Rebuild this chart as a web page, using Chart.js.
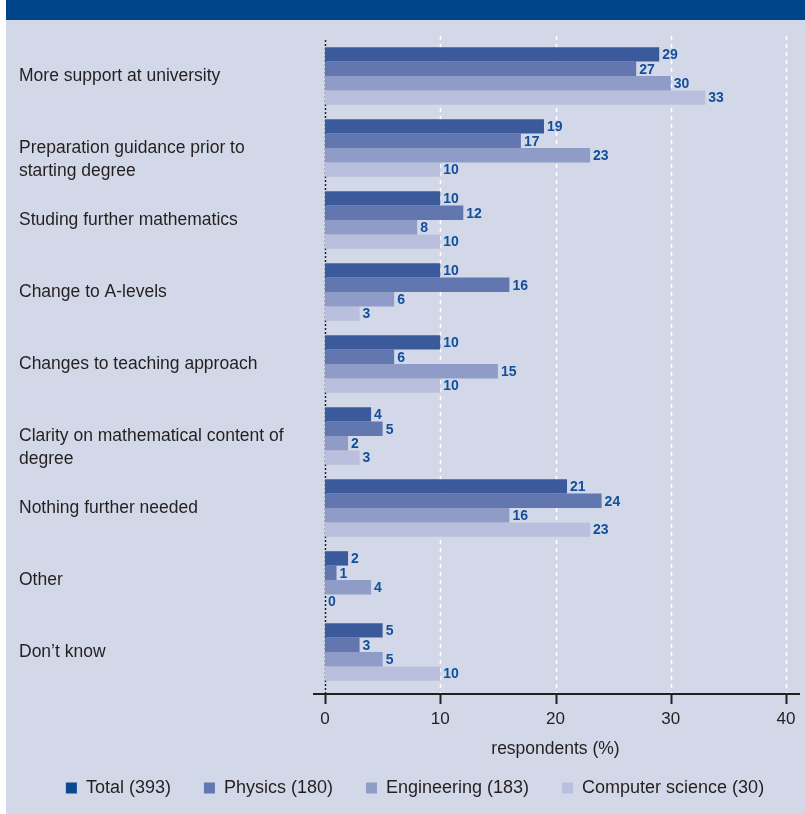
<!DOCTYPE html>
<html>
<head>
<meta charset="utf-8">
<script src="https://cdn.jsdelivr.net/npm/chart.js@4/dist/chart.umd.min.js"></script>
<style>
  html, body { margin: 0; padding: 0; background: #ffffff; overflow: hidden; }
  #wrap { position: relative; width: 805px; height: 814px; overflow: hidden; }
  #band { position: absolute; left: 6px; top: 0; width: 799px; height: 20px; background: #00448a; }
  #panel { position: absolute; left: 6px; top: 20px; width: 799px; height: 794px; background: #d3d8e8; }
  #c { position: absolute; left: 0; top: 0; }
</style>
</head>
<body>
<div id="wrap">
  <div id="band"></div>
  <div id="panel"></div>
  <canvas id="c" width="811" height="814"></canvas>
</div>
<script>
const categories = [
  'More support at university',
  ['', 'Preparation guidance prior to', 'starting degree'],
  'Studing further mathematics',
  'Change to A-levels',
  'Changes to teaching approach',
  ['', 'Clarity on mathematical content of', 'degree'],
  'Nothing further needed',
  'Other',
  'Don\u2019t know'
];
const seriesNames = ['Total (393)', 'Physics (180)', 'Engineering (183)', 'Computer science (30)'];
const totalValues = [29, 19, 10, 10, 10, 4, 21, 2, 5];
const physicsValues = [27, 17, 12, 16, 6, 5, 24, 1, 3];
const engineeringValues = [30, 23, 8, 6, 15, 2, 16, 4, 5];
const computerScienceValues = [33, 10, 10, 3, 10, 3, 23, 0, 10];
const xTicks = [0, 10, 20, 30, 40];

const barColors = ['#3a5a9c', '#6277b0', '#8f9cc7', '#b9bfdc'];
const legendColors = ['#0b4690', '#6277b0', '#8f9cc7', '#b9bfdc'];
const textColor = '#231f20';
const FONT = "'Liberation Sans', Arial, sans-serif";

const seriesValues = [totalValues, physicsValues, engineeringValues, computerScienceValues];

const decorPlugin = {
  id: 'decor',
  beforeDatasetsDraw(chart) {
    const ctx = chart.ctx;
    const xs = chart.scales.x;
    const area = chart.chartArea;
    const axisY = area.bottom + 6;
    ctx.save();
    xTicks.forEach(v => {
      const px = Math.round(xs.getPixelForValue(v)) + 0.5;
      ctx.beginPath();
      if (v === 0) {
        ctx.setLineDash([2, 2]);
        ctx.strokeStyle = '#231f20';
        ctx.lineWidth = 1.5;
        ctx.moveTo(px, area.top);
      } else {
        ctx.setLineDash([4, 4]);
        ctx.strokeStyle = '#ffffff';
        ctx.lineWidth = 1.5;
        ctx.moveTo(px, area.top - 4);
      }
      ctx.lineTo(px, axisY);
      ctx.stroke();
    });
    ctx.setLineDash([]);
    ctx.strokeStyle = textColor;
    ctx.lineWidth = 2;
    ctx.beginPath();
    ctx.moveTo(xs.getPixelForValue(0) - 12, axisY);
    ctx.lineTo(area.right + 14, axisY);
    ctx.stroke();
    xTicks.forEach(v => {
      const px = Math.round(xs.getPixelForValue(v)) + 0.5;
      ctx.beginPath();
      ctx.moveTo(px, axisY);
      ctx.lineTo(px, axisY + 10);
      ctx.stroke();
    });
    ctx.restore();
  },
  afterDatasetsDraw(chart) {
    const ctx = chart.ctx;
    ctx.save();
    ctx.font = "bold 14px " + FONT;
    ctx.fillStyle = '#124f9c';
    ctx.textBaseline = 'middle';
    ctx.textAlign = 'left';
    chart.data.datasets.forEach((ds, di) => {
      const meta = chart.getDatasetMeta(di);
      meta.data.forEach((bar, i) => {
        ctx.fillText(String(ds.data[i]), bar.x + 3, bar.y + 1);
      });
    });
    ctx.restore();
  }
};

new Chart(document.getElementById('c'), {
  type: 'bar',
  data: {
    labels: categories,
    datasets: seriesNames.map((name, i) => ({
      label: name,
      data: seriesValues[i],
      backgroundColor: barColors[i],
      borderWidth: 0,
      categoryPercentage: 0.8,
      barPercentage: 1.0
    }))
  },
  options: {
    indexAxis: 'y',
    responsive: false,
    animation: false,
    layout: { padding: { left: 19, right: 0, top: 40, bottom: 7 } },
    scales: {
      x: {
        min: 0,
        max: 40,
        afterBuildTicks(scale) { scale.ticks = xTicks.map(v => ({ value: v })); },
        afterFit(scale) { scale.height = 58; scale.paddingRight = 25; scale.paddingLeft = 0; },
        grid: { display: false, drawTicks: false },
        border: { display: false },
        ticks: {
          padding: 21,
          color: textColor,
          font: { family: FONT, size: 17 }
        },
        title: {
          display: true,
          text: 'respondents (%)',
          color: textColor,
          font: { family: FONT, size: 17.5 },
          padding: { top: 0, bottom: -14 }
        }
      },
      y: {
        afterFit(scale) { scale.width = 306; },
        grid: { display: false, drawTicks: false },
        border: { display: false },
        ticks: {
          crossAlign: 'far',
          padding: 0,
          color: textColor,
          font: { family: FONT, size: 17.5, lineHeight: 1.3 }
        }
      }
    },
    plugins: {
      legend: {
        position: 'bottom',
        align: 'center',
        labels: {
          boxWidth: 11,
          boxHeight: 11,
          padding: 33,
          color: textColor,
          font: { family: FONT, size: 18 },
          generateLabels(chart) {
            return chart.data.datasets.map((ds, i) => ({
              text: ds.label,
              fillStyle: legendColors[i],
              strokeStyle: legendColors[i],
              lineWidth: 0,
              fontColor: textColor,
              datasetIndex: i,
              hidden: false
            }));
          }
        }
      },
      tooltip: { enabled: false }
    }
  },
  plugins: [decorPlugin]
});
</script>
</body>
</html>
